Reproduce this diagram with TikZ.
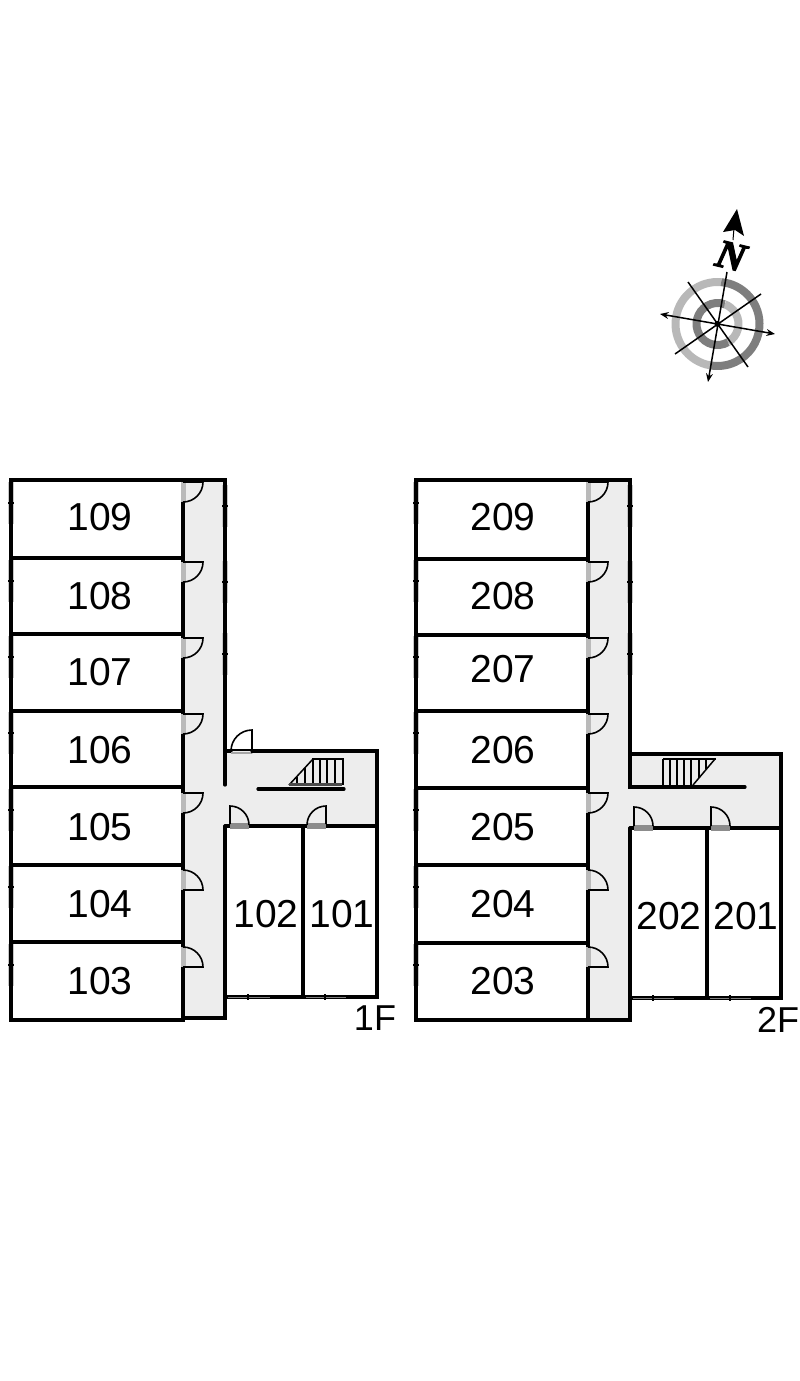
\documentclass[tikz,border=0pt]{standalone}
\usepackage{fontspec}
\setmainfont{Liberation Sans}
\newfontfamily\northfont{Liberation Serif}[BoldItalicFeatures={FakeBold=3}]
\usepackage{tikz}
\usetikzlibrary{calc,arrows.meta}
\definecolor{floorgray}{HTML}{EDEDED}
\definecolor{sillgray}{HTML}{8C8C8C}
\definecolor{ringdark}{HTML}{7E7E7E}
\definecolor{ringlight}{HTML}{B8B8B8}
\tikzset{>={Stealth[width=2.4mm,length=3mm]}}

\begin{document}
\begin{tikzpicture}[x=1pt,y=-1pt]
  \tikzstyle{wall} = [line width=3.2pt, line cap=round]
  \tikzstyle{floor} = [fill=floorgray, draw=none]
  \tikzstyle{roomlabel} = [font=\fontsize{39}{39}\selectfont, inner sep=0pt, align=center]
  \tikzstyle{floorlabel} = [font=\fontsize{36}{36}\selectfont, inner sep=0pt]
  \tikzstyle{leaf} = [line width=1.6pt]
  \tikzstyle{sill} = [line width=5pt, draw=sillgray!60]
  \tikzstyle{darksill} = [line width=6pt, draw=sillgray]
  \tikzstyle{tread} = [line width=1.5pt]
  \tikzstyle{strip} = [line width=6pt, draw=black!22]
  \tikzstyle{tick} = [line width=1.6pt]
  \tikzstyle{ring} = [line width=8pt, line cap=butt]
  \tikzstyle{needle} = [line width=1.5pt]
  \useasboundingbox (0,0) rectangle (800,1381);

  % first floor
  \fill[floor] (183,480) rectangle (225,1018);
  \fill[floor] (225,751) rectangle (377,826);

  \draw[strip] (11,482) -- (11,524) (11,560) -- (11,602) (11,636) -- (11,678) (11,712) -- (11,754)
    (11,789) -- (11,831) (11,866) -- (11,908) (11,944) -- (11,986);
  \draw[strip] (225,485) -- (225,527) (225,561) -- (225,603) (225,633) -- (225,675);

  \draw[wall] (11,480) rectangle (183,558);
  \draw[wall] (11,558) rectangle (183,634);
  \draw[wall] (11,634) rectangle (183,711);
  \draw[wall] (11,711) rectangle (183,787);
  \draw[wall] (11,787) rectangle (183,865);
  \draw[wall] (11,865) rectangle (183,942);
  \draw[wall] (11,942) rectangle (183,1020);
  \draw[wall] (183,480) -- (225,480) -- (225,785);
  \draw[wall] (225,826) -- (225,1018) -- (183,1018);
  \draw[wall] (225,751) -- (231,751);
  \draw[wall] (252,751) -- (377,751) -- (377,997) -- (225,997);
  \draw[wall] (225,826) -- (377,826);
  \draw[wall] (303,826) -- (303,997);

  \draw[tick] (8,503) -- (14,503) (8,581) -- (14,581) (8,657) -- (14,657) (8,733) -- (14,733)
    (8,810) -- (14,810) (8,887) -- (14,887) (8,965) -- (14,965);
  \draw[tick] (222,506) -- (228,506) (222,582) -- (228,582) (222,654) -- (228,654);

  % bottom windows
  \draw[line width=0.8pt, draw=black!50] (228,997) -- (270,997) (306,997) -- (346,997);
  \draw[tick] (248,994) -- (248,1000) (325,994) -- (325,1000);

  \node[roomlabel] (r109) at (100,517) {109};
  \node[roomlabel] (r108) at (100,596) {108};
  \node[roomlabel] (r107) at (100,672) {107};
  \node[roomlabel] (r106) at (100,750) {106};
  \node[roomlabel] (r105) at (100,827) {105};
  \node[roomlabel] (r104) at (100,904) {104};
  \node[roomlabel] (r103) at (100,981) {103};
  \node[roomlabel] (r102) at (266,914) {102};
  \node[roomlabel] (r101) at (342,914) {101};
  \node[floorlabel] (f1) at (375,1018) {1F};

  \draw[sill] (183,482) -- (183,502);
  \draw[sill] (183,562) -- (183,582);
  \draw[sill] (183,638) -- (183,658);
  \draw[sill] (183,714) -- (183,734);
  \draw[sill] (183,793) -- (183,813);
  \draw[sill] (183,870) -- (183,890);
  \draw[sill] (183,947) -- (183,967);
  \draw[leaf] (183,482) -- (203,482) arc (0:90:20);
  \draw[leaf] (183,562) -- (203,562) arc (0:90:20);
  \draw[leaf] (183,638) -- (203,638) arc (0:90:20);
  \draw[leaf] (183,714) -- (203,714) arc (0:90:20);
  \draw[leaf] (183,793) -- (203,793) arc (0:90:20);
  \draw[leaf] (183,890) -- (203,890) arc (0:-90:20);
  \draw[leaf] (183,967) -- (203,967) arc (0:-90:20);

  \draw[line width=2pt] (231,749.5) -- (252,749.5);
  \draw[line width=2pt, draw=black!35] (231,753) -- (252,753);
  \draw[leaf] (231,751) arc (180:270:21) -- (252,753);
  \draw[darksill] (230,826) -- (249,826);
  \draw[darksill] (307,826) -- (326,826);
  \draw[leaf] (230,824) -- (230,806) arc (-90:0:19);
  \draw[leaf] (326,824) -- (326,806) arc (-90:-180:19);

  \draw[tread] (289,785) -- (313,759);
  \draw[line width=2.4pt] (312,759) -- (344,759);
  \draw[tread] (297,777) -- (297,785);
  \draw[tread] (305,768) -- (305,785);
  \draw[tread] (313,759) -- (313,785);
  \draw[tread] (320,759) -- (320,785);
  \draw[tread] (327,759) -- (327,785);
  \draw[tread] (335,759) -- (335,785);
  \draw[line width=2pt] (342.5,758) -- (342.5,785);
  \draw[line width=3pt, draw=black!70] (289,784.5) -- (342,784.5);
  \draw[wall] (258,789) -- (344,789);

  % second floor
  \fill[floor] (588,480) rectangle (630,1020);
  \fill[floor] (630,754) rectangle (781,828);

  \draw[strip] (416,482) -- (416,524) (416,560) -- (416,602) (416,636) -- (416,678) (416,712) -- (416,754)
    (416,789) -- (416,831) (416,866) -- (416,908) (416,944) -- (416,986);
  \draw[strip] (630,485) -- (630,527) (630,561) -- (630,603) (630,633) -- (630,675);

  \draw[wall] (416,480) rectangle (588,559);
  \draw[wall] (416,559) rectangle (588,635);
  \draw[wall] (416,635) rectangle (588,711);
  \draw[wall] (416,711) rectangle (588,788);
  \draw[wall] (416,788) rectangle (588,865);
  \draw[wall] (416,865) rectangle (588,943);
  \draw[wall] (416,943) rectangle (588,1020);
  \draw[wall] (588,480) -- (630,480) -- (630,787) -- (745,787);
  \draw[wall] (630,754) -- (781,754) -- (781,998) -- (630,998);
  \draw[wall] (630,828) -- (630,1020) -- (588,1020);
  \draw[wall] (630,828) -- (781,828);
  \draw[wall] (707,828) -- (707,998);

  \draw[tick] (413,503) -- (419,503) (413,581) -- (419,581) (413,657) -- (419,657) (413,733) -- (419,733)
    (413,810) -- (419,810) (413,887) -- (419,887) (413,965) -- (419,965);
  \draw[tick] (627,506) -- (633,506) (627,582) -- (633,582) (627,654) -- (633,654);

  % bottom windows
  \draw[line width=0.8pt, draw=black!50] (633,998) -- (674,998) (710,998) -- (751,998);
  \draw[tick] (653,995) -- (653,1001) (730,995) -- (730,1001);

  \node[roomlabel] (r209) at (503,517) {209};
  \node[roomlabel] (r208) at (503,596) {208};
  \node[roomlabel] (r207) at (503,669) {207};
  \node[roomlabel] (r206) at (503,750) {206};
  \node[roomlabel] (r205) at (503,827) {205};
  \node[roomlabel] (r204) at (503,904) {204};
  \node[roomlabel] (r203) at (503,981) {203};
  \node[roomlabel] (r202) at (669,916) {202};
  \node[roomlabel] (r201) at (746,916) {201};
  \node[floorlabel] (f2) at (778,1020) {2F};

  \draw[sill] (588,482) -- (588,502);
  \draw[sill] (588,562) -- (588,582);
  \draw[sill] (588,638) -- (588,658);
  \draw[sill] (588,714) -- (588,734);
  \draw[sill] (588,793) -- (588,813);
  \draw[sill] (588,870) -- (588,890);
  \draw[sill] (588,947) -- (588,967);
  \draw[leaf] (588,482) -- (608,482) arc (0:90:20);
  \draw[leaf] (588,562) -- (608,562) arc (0:90:20);
  \draw[leaf] (588,638) -- (608,638) arc (0:90:20);
  \draw[leaf] (588,714) -- (608,714) arc (0:90:20);
  \draw[leaf] (588,793) -- (608,793) arc (0:90:20);
  \draw[leaf] (588,890) -- (608,890) arc (0:-90:20);
  \draw[leaf] (588,967) -- (608,967) arc (0:-90:20);

  \draw[darksill] (634,828) -- (653,828);
  \draw[darksill] (711,828) -- (730,828);
  \draw[leaf] (634,826) -- (634,807) arc (-90:0:19);
  \draw[leaf] (711,826) -- (711,807) arc (-90:0:19);

  \draw[tread] (693,785) -- (715,759);
  \draw[line width=2.4pt] (663,759) -- (716,759);
  \draw[line width=2pt] (663,759) -- (663,785);
  \draw[tread] (670,759) -- (670,785);
  \draw[tread] (677,759) -- (677,785);
  \draw[tread] (684,759) -- (684,785);
  \draw[tread] (691,759) -- (691,785);
  \draw[tread] (699,759) -- (699,778);
  \draw[tread] (706,759) -- (706,769);

  % compass
  \coordinate (c) at (717.5,324);
  \draw[ring, ringlight] (c) ++(100:42) arc (100:275:42);
  \draw[ring, ringdark] (c) ++(-85:42) arc (-85:100:42);
  \draw[ring, ringlight] (c) ++(60:21) arc (60:-70:21);
  \draw[ring, ringdark] (c) ++(60:21) arc (60:290:21);

  \coordinate (nt) at (727,272);
  \coordinate (st) at (708,382);
  \coordinate (wt) at (660,314);
  \coordinate (et) at (775,334);
  \draw[needle,->] (nt) -- (st);
  \draw[needle,<->] (wt) -- (et);
  \draw[needle] (688,282) -- (748,367);
  \draw[needle] (761,294) -- (675,354);
  \fill (c) circle (3);

  \coordinate (na) at (737,209);
  \fill (na) -- (744,236) -- (735,230) -- (723,232) -- cycle;
  \draw[line width=1pt] (734,228) -- (733,240);
  \node[rotate=-14, inner sep=0pt, font=\northfont\bfseries\itshape\fontsize{40}{40}\selectfont] (north) at (731,256) {N};
\end{tikzpicture}
\end{document}
